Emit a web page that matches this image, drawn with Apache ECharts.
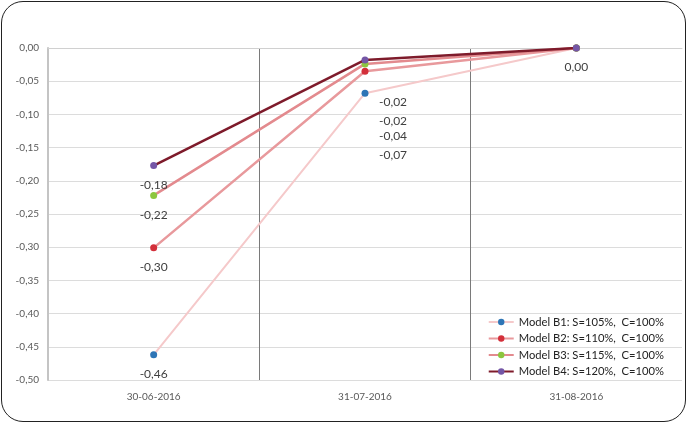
<!DOCTYPE html>
<html>
<head>
<meta charset="utf-8">
<script src="https://cdn.jsdelivr.net/npm/echarts@6/dist/echarts.min.js"></script>
<style>
html,body{margin:0;padding:0;background:#fff;}
#frame{position:absolute;left:1px;top:1px;width:683px;height:419px;border:1.5px solid #222;border-radius:22px;}
#chart{position:absolute;left:0;top:0;width:687px;height:423px;}
</style>
</head>
<body>
<div id="frame"></div>
<div id="chart"></div>
<script>
const categories = ['30-06-2016', '31-07-2016', '31-08-2016'];
const seriesNames = [
  'Model B1: S=105%,  C=100%',
  'Model B2: S=110%,  C=100%',
  'Model B3: S=115%,  C=100%',
  'Model B4: S=120%,  C=100%'
];
const b1 = [-0.462, -0.068, 0];
const b2 = [-0.301, -0.035, 0];
const b3 = [-0.222, -0.024, 0];
const b4 = [-0.177, -0.018, 0];
const yTicks = { min: -0.5, max: 0, interval: 0.05 };

const lineColors = ['#f5c9ca', '#e8999c', '#e38a8e', '#7e1b2b'];
const markerColors = ['#2e75b6', '#d32f3a', '#8cc63e', '#7456a6'];
const lineWidths = [2, 2.5, 2.5, 2.5];
// label placement per series at the middle point (relative to the symbol box)
const midPos = [[17.5, 65.5], [17.5, 68], [17.5, 61], [17.5, 46]];
const fmt = v => v.toFixed(2).replace('.', ',');

const allData = [b1, b2, b3, b4];
const series = allData.map((d, i) => ({
  name: seriesNames[i],
  type: 'line',
  data: d.map((v, j) => {
    const item = { value: v };
    if (j === 1) {
      item.label = { show: true, position: midPos[i], align: 'left', verticalAlign: 'middle' };
    } else if (j === 2) {
      item.label = { show: i === 3, position: 'bottom', distance: 10 };
    }
    return item;
  }),
  symbol: 'circle',
  symbolSize: 7,
  z: 2 + i,
  lineStyle: { color: lineColors[i], width: lineWidths[i] },
  itemStyle: { color: markerColors[i] },
  label: {
    show: true,
    position: 'bottom',
    distance: 10,
    color: '#404040',
    fontSize: 12,
    fontFamily: 'Lato',
    formatter: p => fmt(p.value)
  },
  labelLayout: { hideOverlap: false },
  emphasis: { disabled: true },
  animation: false
}));

const chart = echarts.init(document.getElementById('chart'), null, { renderer: 'canvas' });
chart.setOption({
  backgroundColor: 'transparent',
  animation: false,
  grid: { left: 48, right: 5, top: 48, bottom: 43 },
  legend: {
    orient: 'vertical',
    right: 18,
    bottom: 41,
    itemWidth: 25,
    itemHeight: 8,
    itemGap: 5.5,
    textStyle: { color: '#222', fontSize: 11.2, fontFamily: 'Lato' },
    data: seriesNames
  },
  xAxis: {
    type: 'category',
    data: categories,
    boundaryGap: true,
    axisLine: { lineStyle: { color: '#d0d0d0', width: 1 } },
    axisTick: { show: false },
    axisLabel: { color: '#595959', fontSize: 10, fontFamily: 'Lato', margin: 12 },
    splitLine: { show: true, lineStyle: { color: ['rgba(0,0,0,0)', '#7a7a7a', '#7a7a7a', 'rgba(0,0,0,0)'], width: 1 } }
  },
  yAxis: {
    type: 'value',
    min: yTicks.min,
    max: yTicks.max,
    interval: yTicks.interval,
    axisLine: { show: true, lineStyle: { color: '#c4c4c4', width: 2 } },
    axisTick: { show: false },
    axisLabel: { color: '#595959', fontSize: 10, fontFamily: 'Lato', margin: 9, formatter: v => fmt(v) },
    splitLine: { show: true, lineStyle: { color: '#dcdcdc', width: 1 } }
  },
  series: series
});
</script>
</body>
</html>
